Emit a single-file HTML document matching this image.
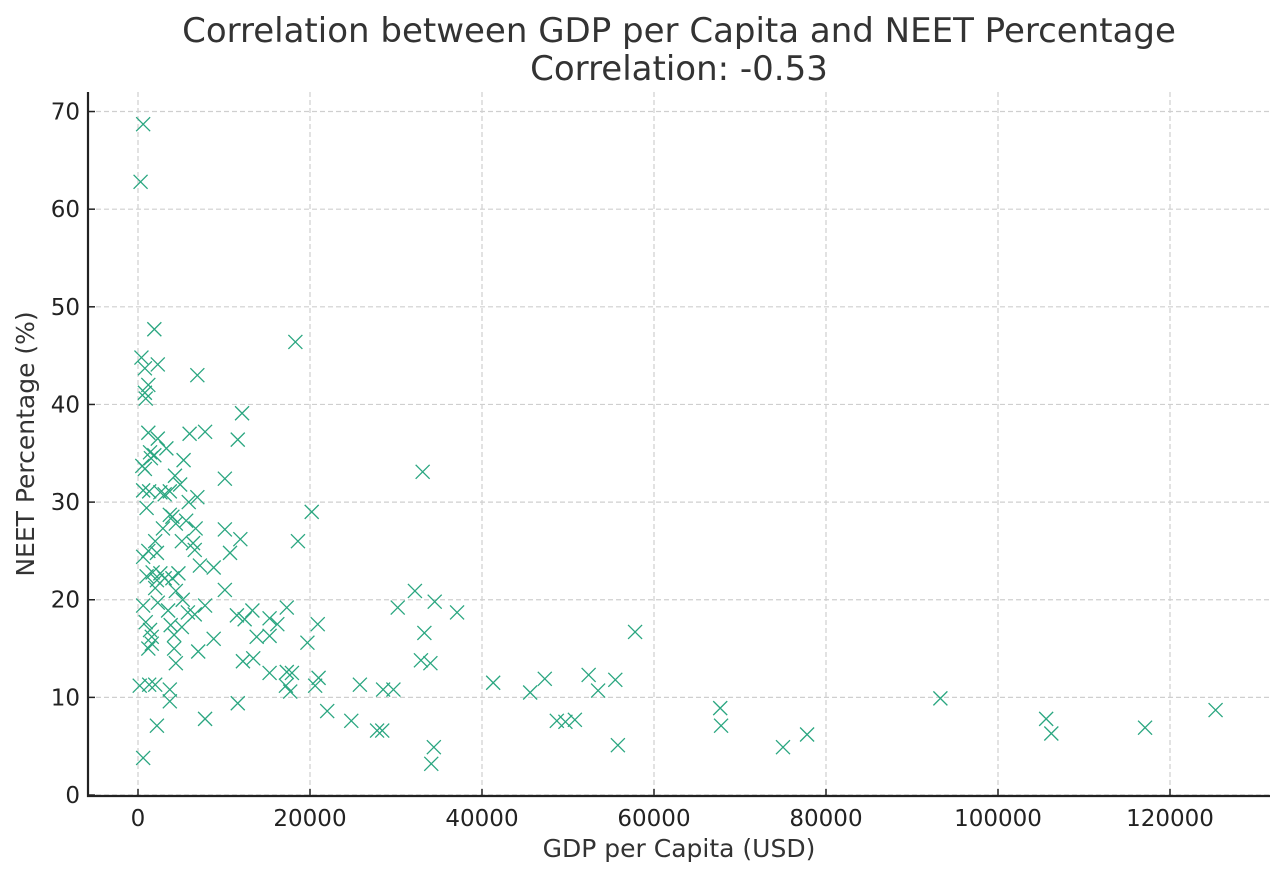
<!DOCTYPE html>
<html><head><meta charset="utf-8"><style>
body{margin:0;background:#fff;}
svg text{font-family:"DejaVu Sans","Liberation Sans",sans-serif;fill:#333;}
</style></head><body>
<svg id="chart" width="1285" height="871" viewBox="0 0 1285 871" xmlns="http://www.w3.org/2000/svg">
<rect width="1285" height="871" fill="#fff"/>
<text x="679" y="42" font-size="34" text-anchor="middle">Correlation between GDP per Capita and NEET Percentage</text>
<text x="679" y="80" font-size="34" text-anchor="middle">Correlation: -0.53</text>
<g id="grid"></g>
<g id="points"></g>
<g id="axes"></g>
<text x="679" y="857" font-size="25" text-anchor="middle">GDP per Capita (USD)</text>
<text transform="translate(34,444) rotate(-90)" font-size="25" text-anchor="middle">NEET Percentage (%)</text>
</svg>
<script>
const gdpK = [0.6,0.3,1.9,18.3,0.4,2.3,0.8,6.9,1.2,0.8,0.9,12.1,1.2,6.0,7.8,11.6,2.3,3.3,1.4,1.5,1.9,5.3,0.8,33.1,4.3,10.1,0.5,4.9,0.6,1.3,2.6,3.7,3.1,6.9,5.9,1.0,20.2,3.7,4.0,5.6,4.4,2.9,10.1,6.7,11.9,18.6,2.0,6.4,5.1,1.2,2.2,10.7,0.6,6.6,7.2,8.8,1.7,2.6,4.7,1.0,3.1,4.0,2.2,2.0,10.1,4.4,5.2,32.2,34.5,0.6,2.3,7.8,17.3,30.2,3.5,5.8,6.6,13.3,37.1,11.5,12.4,15.3,16.2,0.9,20.9,3.8,5.1,1.4,1.6,57.8,4.2,13.8,15.3,33.3,8.8,1.6,19.7,1.2,4.2,7.0,13.4,12.2,32.9,34.0,4.4,17.3,17.9,15.3,52.4,21.0,47.3,55.5,41.3,0.2,1.3,2.0,25.8,17.2,20.6,3.7,28.5,29.7,17.7,53.5,45.6,3.7,11.6,93.3,67.7,125.3,22.0,7.8,24.8,48.7,49.7,50.8,105.6,2.2,67.8,117.1,27.8,28.4,77.8,106.2,55.8,34.4,75.0,0.6,34.1];
const neet = [68.7,62.8,47.7,46.4,44.8,44.1,43.7,43.0,42.0,41.2,40.6,39.1,37.1,37.0,37.2,36.4,36.5,35.5,35.1,34.5,34.8,34.3,33.4,33.1,32.7,32.4,33.7,31.8,31.2,31.1,31.0,31.1,30.8,30.5,30.0,29.4,29.0,28.7,28.5,28.1,27.8,27.3,27.2,27.3,26.2,26.0,26.0,25.8,26.0,25.0,24.8,24.8,24.4,25.1,23.5,23.3,22.8,22.7,22.7,22.4,22.2,22.2,22.0,21.2,21.0,20.9,20.0,20.9,19.8,19.4,19.7,19.4,19.2,19.2,18.9,18.7,18.5,18.9,18.7,18.4,18.0,18.1,17.5,17.7,17.5,17.4,17.2,16.9,16.2,16.7,16.4,16.2,16.3,16.6,16.0,15.5,15.6,15.0,15.0,14.7,14.0,13.7,13.8,13.5,13.5,12.6,12.5,12.5,12.3,12.0,11.9,11.8,11.5,11.2,11.3,11.3,11.3,11.2,11.2,10.8,10.8,10.8,10.6,10.7,10.5,9.6,9.4,9.9,8.9,8.7,8.6,7.8,7.6,7.6,7.5,7.7,7.8,7.1,7.1,6.9,6.6,6.6,6.2,6.3,5.1,4.9,4.9,3.8,3.2];
const xTicks = [0,20000,40000,60000,80000,100000,120000];
const yTicks = [0,10,20,30,40,50,60,70];

const NS="http://www.w3.org/2000/svg";
const L=88,R=1270,T=92,B=796;
const xMin=-5814,xMax=131628,yMin=-0.1,yMax=72;
const xs=v=>L+(v-xMin)/(xMax-xMin)*(R-L);
const ys=v=>B-(v-yMin)/(yMax-yMin)*(B-T);
function mk(tag,attrs,parent){const e=document.createElementNS(NS,tag);for(const k in attrs)e.setAttribute(k,attrs[k]);parent.appendChild(e);return e;}
const grid=document.getElementById('grid'),pts=document.getElementById('points'),axes=document.getElementById('axes');
xTicks.forEach(t=>{const x=xs(t);
 const g=mk('line',{x1:x,x2:x,y1:T,y2:B,stroke:'#cfcfcf','stroke-width':1.2,'stroke-dasharray':'5,3'},grid);
 
 
 mk('line',{x1:x,x2:x,y1:B,y2:B-7,stroke:'#222','stroke-width':1.5},axes);
 const tx=mk('text',{x:x,y:B+30,'font-size':23,'text-anchor':'middle',style:'fill:#222'},axes);tx.textContent=t;
 
 
});
yTicks.forEach(t=>{const y=ys(t);
 const g=mk('line',{x1:L,x2:R,y1:y,y2:y,stroke:'#cfcfcf','stroke-width':1.2,'stroke-dasharray':'5,3'},grid);
 
 
 mk('line',{x1:L,x2:L+7,y1:y,y2:y,stroke:'#222','stroke-width':1.5},axes);
 const tx=mk('text',{x:L-8,y:y+8,'font-size':23,'text-anchor':'end',style:'fill:#222'},axes);tx.textContent=t;
 
 
});
const ax=mk('path',{d:`M${L},${T} L${L},${B} L${R},${B}`,fill:'none',stroke:'#222','stroke-width':2.2},axes);


gdpK.forEach((g,i)=>{const x=xs(g*1000),y=ys(neet[i]),s=7;
 const p=mk('path',{d:`M${x-s},${y-s}L${x+s},${y+s}M${x-s},${y+s}L${x+s},${y-s}`,stroke:'#2aa680','stroke-width':1.3,fill:'none'},pts);
 
 
});
</script>
</body></html>
